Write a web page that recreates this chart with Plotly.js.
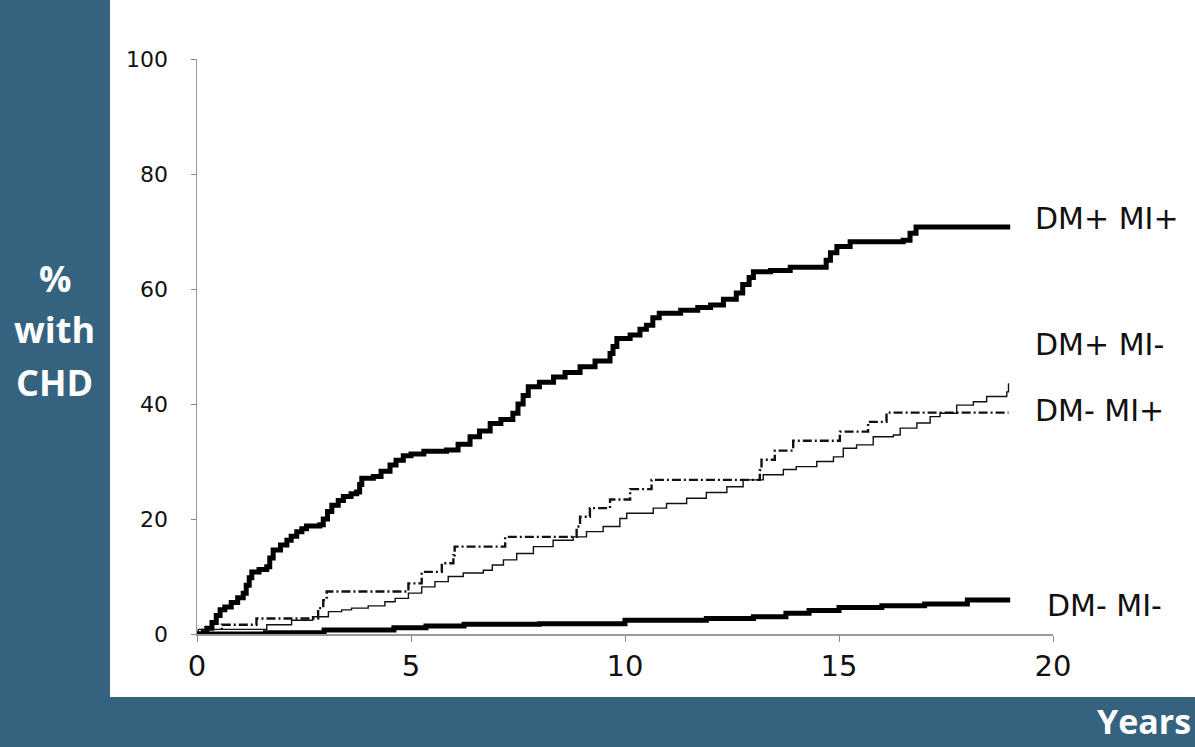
<!DOCTYPE html>
<html>
<head>
<meta charset="utf-8">
<script src="https://cdn.plot.ly/plotly-3.0.1.min.js"></script>
<style>html,body{margin:0;padding:0;background:#35637f;}#chart{width:1195px;height:747px;}</style>
</head>
<body>
<div id="chart"></div>
<script>
// ---- Data (years vs % with CHD) ----
const dmpMipX = [0, 0.15, 0.23, 0.35, 0.45, 0.54, 0.65, 0.8, 0.95, 1.08, 1.15, 1.22, 1.28, 1.45, 1.63, 1.7, 1.78, 1.95, 2.1, 2.2, 2.33, 2.45, 2.56, 2.87, 2.95, 3.05, 3.15, 3.3, 3.42, 3.6, 3.73, 3.8, 3.85, 4.12, 4.3, 4.51, 4.65, 4.82, 5.0, 5.3, 5.83, 6.1, 6.38, 6.6, 6.85, 7.1, 7.38, 7.5, 7.62, 7.74, 8.0, 8.33, 8.6, 8.95, 9.3, 9.65, 9.72, 9.81, 10.12, 10.35, 10.5, 10.65, 10.8, 11.3, 11.7, 12.0, 12.3, 12.6, 12.75, 12.9, 13.0, 13.4, 13.86, 14.6, 14.7, 14.8, 14.95, 15.26, 16.5, 16.66, 16.8, 19.0];
const dmpMipY = [0, 0.5, 1.0, 2.0, 3.2, 4.2, 4.7, 5.5, 6.3, 7.1, 8.5, 9.8, 10.8, 11.2, 11.7, 13.2, 14.6, 15.5, 16.3, 17.0, 17.8, 18.3, 18.8, 19.0, 20.0, 21.3, 22.4, 23.2, 23.9, 24.4, 24.7, 26.0, 27.1, 27.4, 28.3, 29.4, 30.2, 31.0, 31.3, 31.8, 32.0, 33.0, 34.3, 35.3, 36.6, 37.3, 38.4, 40.0, 41.5, 43.0, 43.8, 44.7, 45.5, 46.5, 47.5, 48.8, 50.0, 51.4, 52.0, 53.0, 53.7, 55.0, 55.8, 56.3, 56.8, 57.2, 58.2, 59.3, 60.8, 62.0, 63.0, 63.2, 63.8, 63.8, 65.0, 66.3, 67.4, 68.2, 68.5, 69.7, 70.8, 70.8];

const dmpMimX = [0, 0.03, 1.63, 2.21, 2.7, 3.07, 3.38, 3.61, 4.0, 4.39, 4.63, 4.94, 5.25, 5.56, 5.87, 6.22, 6.69, 6.9, 7.16, 7.47, 7.86, 8.32, 8.79, 9.1, 9.49, 9.88, 10.04, 10.66, 10.97, 11.44, 11.9, 12.38, 12.76, 13.23, 13.7, 14.0, 14.48, 14.87, 15.1, 15.41, 15.8, 16.27, 16.43, 16.82, 17.13, 17.36, 17.75, 18.14, 18.45, 18.92, 18.96];
const dmpMimY = [0, 0.8, 1.6, 2.4, 3.0, 3.9, 4.2, 4.5, 4.9, 5.6, 6.2, 7.1, 8.2, 9.1, 10.0, 10.6, 11.1, 12.0, 12.9, 14.0, 15.2, 16.3, 16.9, 17.8, 18.7, 20.1, 21.0, 21.9, 22.7, 23.6, 24.6, 25.6, 26.8, 27.7, 28.6, 29.1, 30.0, 30.8, 32.3, 32.9, 34.3, 34.6, 35.8, 36.7, 37.8, 38.4, 39.8, 40.4, 41.3, 42.1, 43.6];

const dmMipX = [0, 0.58, 1.39, 2.83, 2.95, 3.03, 3.1, 4.94, 5.25, 5.72, 5.79, 5.99, 6.02, 6.05, 7.2, 8.87, 8.95, 9.18, 9.22, 9.65, 10.12, 10.62, 13.15, 13.19, 13.23, 13.5, 13.93, 15.02, 15.68, 16.11, 18.96];
const dmMipY = [0, 1.6, 2.7, 4.5, 5.9, 7.4, 7.4, 8.8, 10.8, 12.3, 12.3, 13.7, 15.2, 15.2, 16.9, 18.7, 20.4, 21.9, 21.9, 23.4, 25.2, 26.8, 28.5, 30.3, 30.3, 31.9, 33.6, 35.2, 36.9, 38.5, 38.5];

const dmMimX = [0, 1.6, 2.97, 4.6, 5.35, 6.24, 8.0, 10.0, 11.9, 13.0, 13.76, 14.3, 15.0, 16.0, 17.0, 18.0, 19.0];
const dmMimY = [0, 0.2, 0.7, 1.1, 1.4, 1.7, 1.8, 2.4, 2.7, 3.0, 3.6, 4.1, 4.6, 4.9, 5.2, 5.9, 5.9];

const seriesNames = ["DM+ MI+", "DM+ MI-", "DM- MI+", "DM- MI-"];
const labelY = [72.3, 50.3, 38.8, 5.0];
const labelX = [19.53, 19.53, 19.53, 19.81];
const xTicks = [0, 5, 10, 15, 20];
const yTicks = [0, 20, 40, 60, 80, 100];
const yTickText = ["0", "20", "40", "60", "80", "100"];
const yTitleLines = ["%", "with", "CHD"];
const xTitle = "Years";

const traces = [
  {x: dmpMipX, y: dmpMipY, name: seriesNames[0], mode: "lines", line: {shape: "hv", color: "#000", width: 5}},
  {x: dmpMimX, y: dmpMimY, name: seriesNames[1], mode: "lines", line: {shape: "hv", color: "#111", width: 1.4}},
  {x: dmMipX, y: dmMipY, name: seriesNames[2], mode: "lines", line: {shape: "hv", color: "#111", width: 2.4, dash: "9px,3px,2px,3px"}},
  {x: dmMimX, y: dmMimY, name: seriesNames[3], mode: "lines", line: {shape: "hv", color: "#000", width: 5}}
];

const annotations = seriesNames.map((n, i) => ({
  x: labelX[i], y: labelY[i], xref: "x", yref: "y", text: n, showarrow: false,
  xanchor: "left", yanchor: "middle",
  font: {family: "DejaVu Sans, sans-serif", size: 30, color: "#111"}
}));
const titleYs = [0.619, 0.529, 0.438];
yTitleLines.forEach((t, i) => annotations.push({
  x: -0.166, y: titleYs[i], xref: "paper", yref: "paper", text: t, showarrow: false,
  xanchor: "center", yanchor: "middle",
  font: {family: "Open Sans, sans-serif", size: 36, color: "#fff", weight: 700}
}));
annotations.push({
  x: 1.163, y: -0.152, xref: "paper", yref: "paper", text: xTitle, showarrow: false,
  xanchor: "right", yanchor: "middle",
  font: {family: "Open Sans, sans-serif", size: 34, color: "#fff", weight: 700}
});

const layout = {
  width: 1195, height: 747,
  margin: {l: 197, r: 142, t: 59, b: 113},
  paper_bgcolor: "#35637f",
  plot_bgcolor: "rgba(0,0,0,0)",
  showlegend: false,
  shapes: [{
    type: "rect", xref: "paper", yref: "paper", layer: "below",
    x0: -0.1016, x1: 1.17, y0: -0.1096, y1: 1.11,
    fillcolor: "#fff", line: {width: 0}
  }],
  xaxis: {
    range: [0, 20], tickvals: xTicks, ticks: "outside", ticklen: 6, tickcolor: "#888",
    showline: true, linecolor: "#999", linewidth: 1.5, showgrid: false, zeroline: false,
    tickfont: {family: "DejaVu Sans, sans-serif", size: 29, color: "#111"}
  },
  yaxis: {
    range: [0, 100], tickvals: yTicks, ticktext: yTickText, ticks: "outside", ticklen: 5, tickcolor: "#888",
    showline: true, linecolor: "#999", linewidth: 1.5, showgrid: false, zeroline: false,
    ticklabelstandoff: 18,
    tickfont: {family: "DejaVu Sans, sans-serif", size: 22, color: "#111"}
  },
  annotations: annotations
};

Plotly.newPlot("chart", traces, layout, {displayModeBar: false, staticPlot: true});
</script>
</body>
</html>
